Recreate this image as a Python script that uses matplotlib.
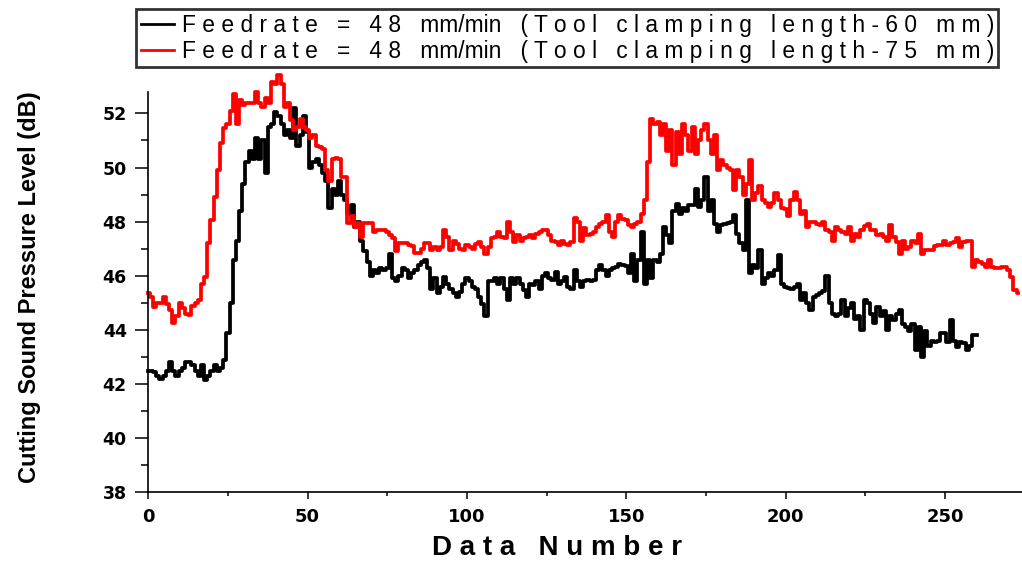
import matplotlib
matplotlib.use('Agg')
import numpy as np
import matplotlib.pyplot as plt
from matplotlib.ticker import MultipleLocator
from matplotlib.lines import Line2D

# cutting sound pressure level, one value per data number
spl_60mm = [
    42.5, 42.5, 42.45, 42.3, 42.2, 42.3, 42.5, 42.8, 42.5, 42.3,
    42.5, 42.6, 42.8, 42.8, 42.7, 42.5, 42.3, 42.7, 42.15, 42.3,
    42.5, 42.7, 42.5, 42.6, 42.9, 43.9, 45.0, 46.6, 47.3, 48.4,
    49.4, 50.2, 50.6, 50.3, 51.1, 50.3, 51.0, 49.8, 51.5, 51.6,
    52.05, 51.9, 51.6, 51.2, 51.4, 51.1, 52.2, 50.8, 51.2, 51.9,
    51.3, 50.0, 50.2, 50.3, 50.1, 49.8, 49.5, 48.5, 49.2, 49.0,
    49.5, 49.0, 48.8, 48.3, 48.6, 47.8, 48.0, 47.3, 46.9, 46.5,
    46.0, 46.2, 46.1, 46.3, 46.2, 46.3, 46.8, 45.9, 45.8, 46.0,
    46.3, 46.2, 45.9, 46.1, 46.2, 46.4, 46.5, 46.6, 46.3, 45.5,
    45.9, 45.35, 45.6, 45.96, 45.7, 45.5, 45.35, 45.2, 45.4, 45.7,
    45.9, 45.8, 45.6, 45.5, 45.2, 44.97, 44.5, 45.8, 45.8, 45.9,
    45.7, 45.9, 45.5, 45.1, 45.9, 45.7, 45.9, 45.7, 45.47, 45.2,
    45.7, 45.65, 45.8, 45.5, 46.0, 46.1, 45.9, 45.85, 46.15, 45.7,
    45.8, 45.95, 45.6, 45.5, 46.2, 45.8, 45.6, 45.8, 45.85, 45.8,
    45.85, 46.2, 46.4, 46.2, 46.0, 46.2, 46.3, 46.33, 46.45, 46.4,
    46.35, 46.1, 46.8, 45.8, 46.6, 47.6, 45.7, 46.6, 45.9, 46.6,
    46.5, 46.8, 47.8, 47.5, 47.2, 48.4, 48.67, 48.3, 48.5, 48.4,
    48.6, 48.6, 49.2, 48.55, 48.8, 49.65, 48.4, 48.8, 47.9, 47.6,
    47.87, 47.9, 47.95, 48.0, 48.24, 47.56, 47.2, 46.95, 48.8, 46.1,
    46.4, 46.3, 46.95, 45.7, 45.9, 46.1, 46.0, 46.2, 46.76, 45.7,
    45.6, 45.55, 45.5, 45.6, 45.7, 45.1, 45.35, 45.0, 44.73, 45.2,
    45.3, 45.35, 45.45, 46.0, 45.0, 44.6, 44.5, 44.6, 45.1, 44.5,
    44.8, 45.0, 44.4, 44.5, 44.0, 45.1, 45.0, 44.6, 44.25, 44.85,
    44.5, 44.7, 44.0, 44.5, 44.35, 44.6, 44.73, 44.2, 44.1, 43.95,
    44.2, 43.25, 44.1, 43.0, 43.95, 43.4, 43.6, 43.55, 43.6, 43.9,
    43.87, 43.55, 44.36, 43.6, 43.37, 43.55, 43.5, 43.25, 43.4, 43.8,
    43.8,
]

spl_75mm = [
    45.35, 45.2, 44.86, 45.0, 45.0, 45.2, 44.95, 44.73, 44.24, 44.5,
    45.0, 44.8, 44.6, 44.55, 44.9, 45.0, 45.1, 45.7, 45.97, 47.2,
    48.06, 48.9, 49.9, 50.9, 51.45, 51.6, 52.1, 52.7, 51.6, 52.5,
    52.3, 52.37, 52.4, 52.37, 52.8, 52.37, 52.25, 52.55, 52.37, 53.17,
    53.1, 53.4, 53.1, 52.25, 52.37, 51.75, 51.4, 51.5, 51.8, 51.5,
    51.4, 51.1, 51.2, 50.8, 50.75, 50.7, 49.9, 49.5, 50.3, 50.35,
    50.3, 49.66, 49.66, 47.94, 48.2, 47.8, 47.94, 47.44, 47.94, 47.94,
    47.94, 47.6, 47.7, 47.7, 47.7, 47.6, 47.5, 47.38, 46.9, 47.2,
    47.2, 47.2, 47.15, 47.1, 46.83, 46.83, 47.0, 47.2, 47.2, 46.95,
    47.07, 46.95, 47.07, 47.68, 47.44, 46.95, 47.3, 47.19, 47.0, 46.95,
    47.13, 47.07, 47.0, 47.19, 47.25, 47.07, 46.82, 47.07, 47.38, 47.44,
    47.6, 47.44, 47.38, 47.99, 47.62, 47.25, 47.5, 47.3, 47.38, 47.45,
    47.5, 47.38, 47.56, 47.62, 47.68, 47.68, 47.5, 47.3, 47.25, 47.13,
    47.3, 47.19, 47.13, 47.25, 48.12, 47.99, 47.3, 47.75, 47.5, 47.56,
    47.6, 47.81, 47.93, 47.99, 48.24, 47.62, 47.44, 47.99, 48.24, 48.1,
    48.05, 47.87, 47.81, 47.93, 47.99, 48.3, 48.8, 50.2, 51.8, 51.6,
    51.7, 51.2, 51.6, 50.6, 51.4, 50.1, 51.3, 50.5, 51.6, 51.2,
    50.6, 51.5, 50.5, 51.0, 51.4, 51.6, 51.0, 50.5, 51.2, 49.9,
    50.27, 50.1, 50.0, 49.9, 49.16, 49.9, 49.65, 49.0, 49.4, 50.27,
    48.8, 49.05, 49.3, 48.8, 48.7, 48.55, 48.7, 49.04, 48.8, 48.5,
    48.45, 48.2, 48.8, 49.1, 48.8, 48.3, 48.4, 47.8, 48.0, 47.99,
    47.9, 47.87, 48.0, 47.7, 47.6, 47.3, 47.8, 47.7, 47.6, 47.55,
    47.8, 47.3, 47.56, 47.44, 47.68, 47.85, 47.93, 47.7, 47.68, 47.5,
    47.56, 47.44, 47.3, 47.87, 47.44, 47.25, 46.82, 47.3, 47.0, 47.07,
    47.3, 47.2, 47.56, 46.82, 46.95, 46.95, 46.95, 47.1, 47.13, 47.13,
    47.3, 47.13, 47.2, 47.25, 47.38, 47.07, 47.25, 47.3, 47.3, 46.33,
    46.58, 46.5, 46.45, 46.33, 46.58, 46.33, 46.3, 46.27, 46.33, 46.33,
    46.2, 45.96, 45.47, 45.35,
]

x_ticks = [0, 50, 100, 150, 200, 250]
y_ticks = [38, 40, 42, 44, 46, 48, 50, 52]
series_labels = ['Feedrate = 48 mm/min (Tool clamping length-60 mm)',
                 'Feedrate = 48 mm/min (Tool clamping length-75 mm)']
series_colors = ['black', 'red']


def letterspace(text, tight=('mm/min',)):
    # wide tracking like the original Origin export
    words = []
    for w in text.split(' '):
        words.append(w if w in tight else ' '.join(w))
    return '   '.join(words)


W, H = 1022, 561
fig = plt.figure(figsize=(W / 100, H / 100), dpi=100)
ax = fig.add_axes([148.3 / W, 68.7 / H, 1 - 148.3 / W, 400.3 / H])

for vals, col in zip([spl_60mm, spl_75mm], series_colors):
    n = np.arange(len(vals))
    ax.plot(n, vals, color=col, lw=2.7, drawstyle='steps-mid', clip_on=False)

ax.set_xlim(0, 274.2)
ax.set_ylim(38, 52.79)
ax.set_xticks(x_ticks)
ax.set_yticks(y_ticks)
ax.xaxis.set_minor_locator(MultipleLocator(25))
ax.yaxis.set_minor_locator(MultipleLocator(1))

for s in ['top', 'right']:
    ax.spines[s].set_visible(False)
for s in ['left', 'bottom']:
    ax.spines[s].set_linewidth(1.2)

ax.tick_params(axis='y', which='major', direction='out', length=9.5, width=1.1, pad=6)
ax.tick_params(axis='y', which='minor', direction='out', length=5, width=1.1)
ax.tick_params(axis='x', which='major', direction='out', length=5, width=1.1, pad=6)
ax.tick_params(axis='x', which='minor', direction='out', length=3, width=1.1)
for lab in ax.get_yticklabels():
    lab.set_fontfamily('DejaVu Sans')
    lab.set_fontweight('bold')
    lab.set_fontsize(12.5)
for lab in ax.get_xticklabels():
    lab.set_fontfamily('DejaVu Sans')
    lab.set_fontweight('bold')
    lab.set_fontsize(13)

fig.text(557 / W, 1 - 548 / H, letterspace('Data Number'), ha='center', va='center',
         fontsize=20, fontweight='bold', family=['Liberation Sans', 'DejaVu Sans'])
fig.text(30 / W, 1 - 287 / H, 'Cutting Sound Pressure Level (dB)', rotation=90,
         ha='center', va='center', fontsize=17, fontweight='bold',
         family=['DejaVu Sans Condensed', 'Liberation Sans'])

handles = [Line2D([], [], color=c, lw=2) for c in series_colors]
leg = fig.legend(handles, [letterspace(s) for s in series_labels],
                 loc='upper left', bbox_to_anchor=(136 / W, 1 - 9 / H),
                 bbox_transform=fig.transFigure, borderaxespad=0,
                 frameon=True, fancybox=False, framealpha=1,
                 edgecolor='#333333', borderpad=0.2, labelspacing=0.14,
                 handlelength=1.45, handletextpad=0.35,
                 prop={'family': ['Liberation Sans', 'DejaVu Sans'], 'size': 16.4})
leg.get_frame().set_linewidth(2)

fig.savefig('out.png', dpi=100)
